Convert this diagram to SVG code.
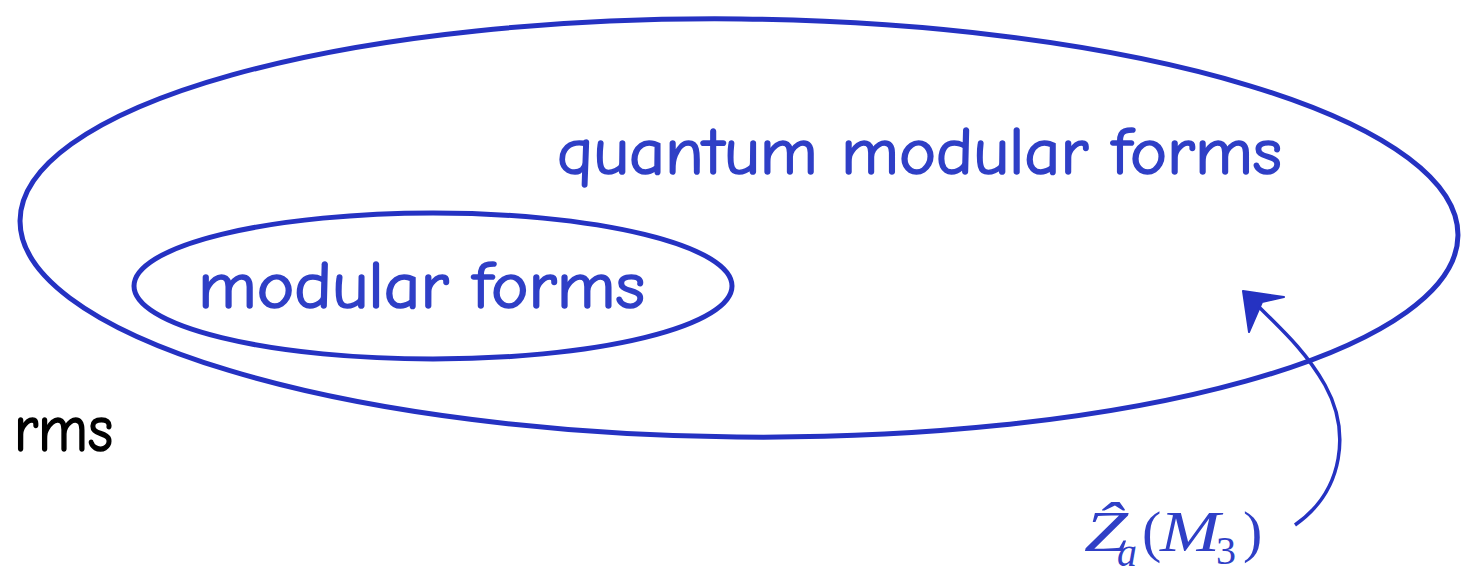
<svg xmlns="http://www.w3.org/2000/svg" width="1461" height="570" viewBox="0 0 1461 570">
<style>
.ring{fill:none;stroke:#2532c2;stroke-width:5}
.lbl{font-family:"Comic Neue","Open Sans","Noto Sans",sans-serif;fill:#2f3fc6;stroke:#2f3fc6;stroke-width:1.6;font-size:66px}
.math{font-family:"Liberation Serif","Times New Roman",serif;fill:#2f3fc6}
</style>
<rect width="1461" height="570" fill="#fff"/>
<g id="quantum-modular-forms">
<ellipse class="ring" cx="739" cy="228" rx="719" ry="209" transform="rotate(0.6 739 228)"/>
<text class="lbl" x="557" y="174" textLength="725" lengthAdjust="spacingAndGlyphs">quantum modular forms</text>
</g>
<g id="modular-forms">
<ellipse class="ring" cx="433" cy="286" rx="299" ry="73"/>
<text class="lbl" x="198" y="308" textLength="447" lengthAdjust="spacingAndGlyphs">modular forms</text>
</g>
<g id="forms-partial">
<text x="14" y="451" font-family="Comic Neue, Open Sans, sans-serif" font-size="66" fill="#000" stroke="#000" stroke-width="1.6" textLength="99" lengthAdjust="spacingAndGlyphs">rms</text>
</g>
<g id="Z-label">
<text class="math" font-size="58" y="551"><tspan x="1084" font-style="italic" textLength="44" lengthAdjust="spacingAndGlyphs">Ẑ</tspan><tspan x="1117" y="566" font-size="40" font-style="italic">a</tspan><tspan x="1142" y="551">(</tspan><tspan x="1160" y="551" font-style="italic" textLength="60" lengthAdjust="spacingAndGlyphs">M</tspan><tspan x="1216" y="564" font-size="40">3</tspan><tspan x="1243" y="551">)</tspan></text>
</g>
<g id="connectors">
<path d="M1295 525 C1345 490 1350 430 1325 385 C1305 350 1282 330 1252 300" fill="none" stroke="#2532c2" stroke-width="3.5"/>
<path d="M1243 291 L1284 297 L1262 302 L1249 332 Z" fill="#2532c2" stroke="#2532c2" stroke-width="2" stroke-linejoin="round"/>
</g>
</svg>
